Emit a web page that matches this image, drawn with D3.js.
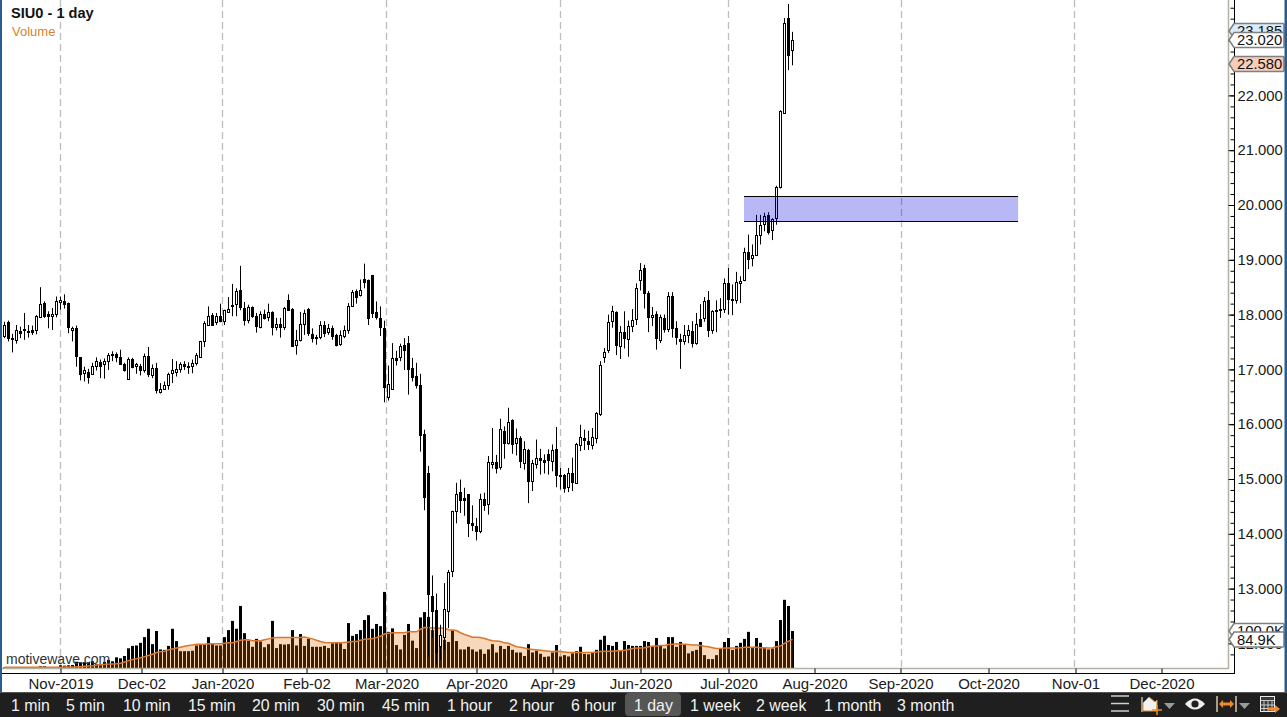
<!DOCTYPE html>
<html><head><meta charset="utf-8">
<script src="https://cdn.jsdelivr.net/npm/d3@7/dist/d3.min.js"></script>
<style>html,body{margin:0;padding:0;background:#fff;overflow:hidden}svg{display:block}text{font-family:"Liberation Sans",Arial,sans-serif}</style>
</head><body><svg id="c" width="1287" height="717"></svg>
<script>
const opens=[17.61,17.87,17.58,17.54,17.70,17.74,17.70,17.72,17.71,17.95,18.21,18.02,17.97,18.01,18.23,18.25,18.21,17.72,17.76,17.22,16.93,16.95,16.91,17.07,17.13,17.09,17.15,17.29,17.28,17.22,17.10,16.82,17.19,17.06,17.07,16.99,17.24,16.90,17.03,16.59,16.65,16.71,16.93,16.96,17.01,17.10,17.07,17.06,17.12,17.22,17.51,17.81,17.99,17.86,17.98,17.89,18.05,18.15,18.19,18.45,18.12,17.91,18.14,17.98,17.78,18.02,17.95,18.05,17.78,17.83,17.78,18.26,18.11,17.44,17.53,17.83,18.11,17.64,17.60,17.60,17.81,17.69,17.75,17.63,17.46,17.61,17.71,18.15,18.43,18.35,18.65,18.64,18.72,18.05,17.94,17.75,16.49,16.65,17.21,17.22,17.45,17.48,17.02,16.88,16.72,15.82,15.11,12.87,12.61,11.96,12.12,12.60,13.32,14.41,14.76,14.66,14.72,14.20,14.15,14.05,14.64,14.55,15.28,15.31,15.21,15.88,15.65,16.07,15.65,15.75,15.29,15.53,14.96,15.28,15.39,15.34,15.45,15.33,15.54,15.08,15.08,14.86,15.11,14.93,15.62,15.75,15.70,15.62,15.75,16.18,17.23,17.36,17.88,18.05,17.42,17.68,17.56,17.79,17.92,18.63,18.85,18.40,17.96,18.01,17.53,17.94,17.74,18.34,17.75,17.56,17.52,17.63,17.70,17.48,17.92,17.93,18.27,17.72,18.09,18.10,18.10,18.58,18.29,18.27,18.58,18.63,19.14,19.03,19.08,19.45,19.65,19.82,19.55,19.76,20.33,21.67,23.41,22.82];
const highs=[17.87,17.89,17.65,17.81,17.78,18.03,17.81,17.80,17.99,18.50,18.24,18.06,18.12,18.33,18.33,18.37,18.22,17.78,17.80,17.22,17.05,17.01,17.12,17.22,17.18,17.20,17.30,17.33,17.31,17.36,17.12,17.22,17.21,17.12,17.10,17.29,17.41,17.09,17.12,16.75,16.78,16.94,17.19,17.15,17.13,17.15,17.13,17.18,17.30,17.52,17.88,18.15,18.03,18.03,18.20,18.09,18.32,18.56,18.48,18.89,18.23,18.18,18.15,18.03,18.06,18.09,18.20,18.06,17.94,17.94,18.14,18.37,18.12,17.72,18.05,18.09,18.12,17.75,17.63,17.88,17.88,17.83,17.80,17.65,17.71,17.80,18.21,18.45,18.46,18.64,18.93,18.64,18.72,18.24,18.15,17.89,17.07,17.48,17.34,17.47,17.57,17.61,17.21,17.12,16.92,15.90,15.24,13.24,12.91,12.34,13.10,13.34,14.42,14.93,14.99,14.84,14.72,14.52,14.29,14.73,14.75,15.42,15.93,15.44,16.10,15.96,16.30,16.09,15.92,15.78,15.69,15.55,15.35,15.72,15.55,15.45,15.54,15.63,15.95,15.20,15.09,15.20,15.39,15.66,15.99,15.90,15.88,15.93,16.22,17.15,17.39,18.00,18.16,18.06,17.79,18.06,17.89,18.10,18.57,18.94,18.91,18.43,18.14,18.06,18.00,18.00,18.41,18.41,17.88,17.65,17.81,17.81,17.88,18.03,18.19,18.32,18.43,18.08,18.26,18.30,18.66,18.85,18.55,18.78,18.70,19.22,19.46,19.28,19.82,19.82,19.86,19.87,19.76,20.35,21.73,23.41,23.67,23.16];
const lows=[17.57,17.51,17.31,17.47,17.57,17.54,17.58,17.63,17.64,17.95,17.94,17.75,17.72,17.95,18.09,18.11,17.66,17.51,17.05,16.80,16.78,16.74,16.90,16.98,16.84,16.83,16.99,17.15,17.13,17.08,16.96,16.82,17.02,16.92,16.89,16.94,16.86,16.84,16.56,16.56,16.63,16.63,16.75,16.87,16.94,16.99,16.92,16.93,17.07,17.21,17.41,17.80,17.80,17.81,17.86,17.81,18.04,17.97,17.97,18.08,17.80,17.84,17.94,17.67,17.75,17.91,17.88,17.62,17.71,17.58,17.72,18.09,17.42,17.27,17.51,17.63,17.61,17.49,17.45,17.55,17.59,17.63,17.54,17.42,17.43,17.57,17.65,18.14,18.20,18.33,18.48,17.81,17.94,17.91,17.61,16.40,16.43,16.65,17.07,17.15,16.99,16.54,16.78,16.65,15.50,14.43,11.76,12.10,11.62,11.70,11.88,12.28,13.21,14.19,14.38,14.33,13.94,14.05,13.88,14.01,14.42,14.35,15.19,15.10,15.17,15.37,15.63,15.46,15.43,15.20,15.17,14.56,14.78,15.19,15.08,15.10,15.08,15.14,14.85,14.81,14.75,14.76,14.78,14.92,15.51,15.53,15.53,15.54,15.65,16.15,17.12,17.30,17.76,17.26,17.19,17.38,17.23,17.68,17.81,18.44,18.11,17.68,17.79,17.36,17.48,17.67,17.68,17.58,17.45,17.01,17.45,17.48,17.40,17.45,17.79,17.87,17.59,17.65,17.68,17.94,18.03,18.00,17.99,18.20,18.21,18.61,18.83,18.88,19.08,19.28,19.52,19.46,19.36,19.64,20.30,21.67,22.46,22.55];
const closes=[17.81,17.57,17.55,17.71,17.67,17.71,17.68,17.69,17.98,18.19,17.98,17.97,18.01,18.25,18.27,18.20,17.77,17.75,17.24,16.91,16.99,16.87,17.07,17.15,17.06,17.15,17.26,17.26,17.22,17.10,16.98,17.19,17.05,17.10,16.99,17.25,16.91,17.03,16.62,16.65,16.71,16.91,16.99,17.01,17.10,17.06,17.04,17.12,17.26,17.52,17.85,17.98,17.81,17.98,17.89,18.09,18.10,18.17,18.43,18.14,17.91,18.14,17.97,17.80,18.02,17.93,18.05,17.77,17.83,17.78,18.12,18.09,17.43,17.53,17.83,18.03,17.66,17.57,17.57,17.81,17.67,17.75,17.61,17.45,17.62,17.72,18.15,18.41,18.33,18.45,18.59,17.94,18.03,17.95,17.78,16.67,16.73,17.21,17.18,17.43,17.35,17.01,16.87,16.72,15.81,14.68,12.91,12.60,11.85,12.15,12.62,13.30,14.41,14.73,14.61,14.61,14.19,14.16,14.05,14.64,14.52,15.31,15.31,15.20,15.91,15.65,16.04,15.63,15.75,15.33,15.55,14.96,15.29,15.39,15.34,15.31,15.34,15.53,15.07,15.05,14.83,15.11,14.95,15.64,15.77,15.71,15.63,15.77,16.21,17.08,17.31,17.87,18.06,17.44,17.68,17.57,17.79,17.90,18.49,18.82,18.39,17.96,17.99,17.57,17.96,17.73,18.34,17.75,17.59,17.52,17.63,17.72,17.48,17.83,17.79,18.25,17.72,18.06,18.06,18.09,18.58,18.28,18.27,18.60,18.61,19.14,19.02,19.08,19.45,19.64,19.80,19.51,19.74,20.32,21.72,23.33,22.74,23.02];
const volumes=[2,2,2,2,3,2,2,2,2,4.6,4.6,3,2.3,2.3,6.8,6,6.8,7.6,15,13.7,13.7,13.7,16,10,8.3,14.4,19,16,25,22.8,28,45.5,51,52,58,71,90,55,85,43,42,51,90,62,39,39,39,40,52,53,54,71,55,52,52,71,87,108,90,142,80,63,49,67,61,48,55,108,46,55,54,55,87,52,78,51,67,49,49,49,51,46,57,60,57,44,103,74,78,87,110,121,90,101,96,174,83,91,53,43,76,101,63,46,116,128,117,87,76,53,65,60,86,62,43,43,49,43,38,43,33,43,55,36,51,44,51,42,36,36,28,55,36,40,33,26,27,36,53,27,30,27,34,39,49,33,32,36,42,65,74,53,51,60,40,62,53,51,51,51,62,60,51,69,53,45,71,71,49,60,53,34,39,42,60,30,21,21,30,46,60,69,42,51,58,67,83,46,69,58,46,43,45,62,110,156,142,84.9];
const volumeAvg=[2.3,2.3,2.3,2.3,2.3,2.3,2.3,2.3,2.3,2.3,2.3,2.3,2.3,2.3,2.3,3,3,3,3.8,3.8,4.5,5.3,6,7.6,8.3,9,10,10,10.6,11.4,14.4,17.5,20,22,24,26.6,29,32,36,38,39,42,44,46,48,50,52,53,55,55,55,56,56,56,56,57,58,58,61,64,65,65,63,63,63,65,67,69,70,70,70,70,70,70,70,71,69,67,64,61,59,58,58,58,58,59,60,61,61,64,66,67,68,70,73,78,80,81,81,81,81,83,83,83,89,93,93,92,91,91,92,88,87,86,81,77,74,71,71,70,68,65,63,62,61,58,57,53,49,48,46,44,43,42,41,40,39,38,39,38,37,36,36,36,36,36,36,36,37,38,39,39,39,40,40,41,43,45,46,46,47,49,50,51,52,52,54,55,56,55,55,54,53,53,52,50,49,47,45,45,46,46,46,46,47,48,48,48,48,47,47,46,47,49,51,57,62,66,68];
const priceTicks=[12,13,14,15,16,17,18,19,20,21,22,23];
const timeTicks=[14,34.25,54.5,75.5,95.5,118,137,159,181,202.5,224,246,267.75,289.25];
const timeLabels=["Nov-2019","Dec-02","Jan-2020","Feb-02","Mar-2020","Apr-2020","Apr-29","Jun-2020","Jul-2020","Aug-2020","Sep-2020","Oct-2020","Nov-01","Dec-2020"];
const gridTicks=[14,54.5,95.5,139,181,224.25,267.5];
const zoneBar=[185,253.4];
const zonePrice=[19.7,20.16];
const buttons=["1 min","5 min","10 min","15 min","20 min","30 min","45 min","1 hour","2 hour","6 hour","1 day","1 week","2 week","1 month","3 month"];
const buttonX=[11,66,123,188,252,317,382,447,509,571,634,690,756,824,897];
const priceTags=[["23.185",31,"#d8ecfb"],["23.020",40,"#ffffff"],["22.580",64,"#f6cdb8"]];
const volTags=[["100.0K",631,"#ffffff"],["84.9K",639.5,"#ffffff"]];

const svg=d3.select("#c");
const x=d3.scaleLinear().domain([0,197]).range([4.5,792.5]);
const y=d3.scaleLinear().domain([20,12]).range([205,643.4]);
const v=d3.scaleLinear().domain([0,100]).range([668.3,624.4]);
const idx=d3.range(opens.length);
const font='"Liberation Sans",Arial,sans-serif';

// gridlines
svg.append("g").selectAll("line").data(gridTicks).join("line")
 .attr("x1",d=>Math.floor(x(d))+.5).attr("x2",d=>Math.floor(x(d))+.5).attr("y1",0).attr("y2",668)
 .attr("stroke","#bdbdbd").attr("stroke-width",1.3).attr("stroke-dasharray","7 4");

// volume
svg.append("g").selectAll("rect").data(idx).join("rect")
 .attr("x",i=>x(i)-1.5).attr("width",3).attr("y",i=>v(volumes[i])).attr("height",i=>v(0)-v(volumes[i])).attr("fill","#000");
const area=d3.area().x(i=>x(i)).y0(v(0)).y1(i=>v(volumeAvg[i])).curve(d3.curveLinear);
svg.append("path").datum(idx).attr("d",area).attr("fill","rgb(228,112,0)").attr("fill-opacity",.27);
svg.append("path").datum(idx).attr("d",d3.line().x(i=>x(i)).y(i=>v(volumeAvg[i]))).attr("fill","none").attr("stroke","#d9772a").attr("stroke-width",1.5);

// candles
const c=svg.append("g").selectAll("g").data(idx).join("g");
c.append("line").attr("x1",i=>x(i)).attr("x2",i=>x(i)).attr("y1",i=>y(highs[i])).attr("y2",i=>y(lows[i])).attr("stroke","#000");
c.append("rect").attr("x",i=>x(i)-1).attr("width",2)
 .attr("y",i=>Math.round(y(Math.max(opens[i],closes[i])))+.5)
 .attr("height",i=>Math.max(1,Math.round(y(Math.min(opens[i],closes[i])))-Math.round(y(Math.max(opens[i],closes[i])))))
 .attr("fill",i=>closes[i]>=opens[i]?"#fff":"#000").attr("stroke","#000");

// zone
const zx0=x(zoneBar[0])-.5,zx1=x(zoneBar[1]);
svg.append("rect").attr("x",zx0).attr("width",zx1-zx0).attr("y",y(zonePrice[1])).attr("height",y(zonePrice[0])-y(zonePrice[1])).attr("fill","#0000e0").attr("fill-opacity",.28);
zonePrice.forEach(p=>svg.append("line").attr("x1",zx0).attr("x2",zx1).attr("y1",Math.round(y(p))+.5).attr("y2",Math.round(y(p))+.5).attr("stroke","#000"));

// frame lines
svg.append("line").attr("x1",0).attr("x2",1229).attr("y1",668.5).attr("y2",668.5).attr("stroke","#b5b3a0").attr("stroke-width",1.5);
svg.append("line").attr("x1",1228.5).attr("x2",1228.5).attr("y1",0).attr("y2",669).attr("stroke","#b5b3a0").attr("stroke-width",1.5);
svg.append("line").attr("x1",2).attr("x2",1235).attr("y1",673.5).attr("y2",673.5).attr("stroke","#000");
svg.append("line").attr("x1",1234.5).attr("x2",1234.5).attr("y1",0).attr("y2",674).attr("stroke","#000");

// bottom axis
const ax=d3.axisBottom(x).tickValues(timeTicks).tickFormat((d,i)=>timeLabels[i]).tickSize(5).tickPadding(4.5);
const gx=svg.append("g").attr("transform","translate(0,668.5)").call(ax);
gx.select(".domain").remove();
gx.selectAll("line").attr("stroke","#000");
gx.selectAll("text").attr("font-family",font).attr("font-size",15).attr("fill","#1a1a1a");

// right axis
const ay=d3.axisRight(y).tickValues(priceTicks).tickFormat(d3.format(".3f")).tickSize(6).tickPadding(3);
const gy=svg.append("g").attr("transform","translate(1228.5,0)").call(ay);
gy.select(".domain").remove();
gy.selectAll("line").attr("stroke","#000");
gy.selectAll("text").attr("font-family",font).attr("font-size",14.8).attr("fill","#1a1a1a").attr("text-anchor","start");
const minorTicks=d3.range(11.8,23.8,0.2);
const am=d3.axisLeft(y).tickValues(minorTicks).tickFormat("").tickSize(4);
const gm=svg.append("g").attr("transform","translate(1234.5,0)").call(am);
gm.select(".domain").remove();
gm.selectAll("line").attr("stroke","#000");

// tags
function tag(t,yc,fill){
  const g=svg.append("g");
  const top=yc-7.5,bot=yc+7.5,l=1234,r=1284,tip=1229;
  g.append("path").attr("d",`M${tip},${yc}L${l},${top}H${r-1}Q${r},${top} ${r},${top+1}V${bot-1}Q${r},${bot} ${r-1},${bot}H${l}Z`)
   .attr("fill",fill).attr("stroke","#808080").attr("stroke-width",1.6);
  g.append("text").attr("x",1237).attr("y",yc+5).attr("font-size",14.8).attr("font-family",font).attr("fill","#111").text(t);
}
volTags.forEach(d=>tag(d[0],d[1],d[2]));
priceTags.forEach(d=>tag(d[0],d[1],d[2]));

// titles
svg.append("text").attr("x",11).attr("y",18).attr("font-size",14.6).attr("font-weight","bold").attr("font-family",font).attr("fill","#111").text("SIU0 - 1 day");
svg.append("text").attr("x",12).attr("y",36).attr("font-size",13).attr("font-family",font).attr("fill","#d9822b").text("Volume");
svg.append("text").attr("x",6).attr("y",664).attr("font-size",14).attr("font-family",font).attr("fill","#333").text("motivewave.com");

// window edges
svg.append("rect").attr("x",0).attr("y",0).attr("width",2).attr("height",692).attr("fill","#2a5c8f");
svg.append("rect").attr("x",1284.5).attr("y",0).attr("width",2.5).attr("height",692).attr("fill","#2a5c8f");

// toolbar
svg.append("rect").attr("x",0).attr("y",692).attr("width",1287).attr("height",25).attr("fill","#1f1f1f");
svg.append("line").attr("x1",0).attr("x2",1287).attr("y1",692.5).attr("y2",692.5).attr("stroke","#555");
svg.append("rect").attr("x",625).attr("y",693).attr("width",56).attr("height",23).attr("rx",4).attr("fill","#565656");
svg.append("g").selectAll("text").data(buttons).join("text").attr("x",(d,i)=>buttonX[i]).attr("y",711)
 .attr("font-size",15.9).attr("font-family",font).attr("fill","#f2f2f2").text(d=>d);

// toolbar icons
const ic=svg.append("g");
[696,703.5,711].forEach(yy=>ic.append("line").attr("x1",1111).attr("x2",1129).attr("y1",yy).attr("y2",yy).attr("stroke","#cfcfcf").attr("stroke-width",1.5));
ic.append("path").attr("d","M1142,712V697").attr("stroke","#cdbb9a").attr("stroke-width",1.5).attr("fill","none");
ic.append("path").attr("d","M1143,711V703L1149,697L1155,702L1157,700V711Z").attr("fill","#f1f1f1").attr("stroke","#e08a3c");
ic.append("path").attr("d","M1157,705V715M1152,710H1162").attr("stroke","#f08a2c").attr("stroke-width",1.5);
ic.append("path").attr("d","M1164,703H1175L1169.5,709Z").attr("fill","#9a9a9a");
ic.append("path").attr("d","M1185,704Q1195,693 1205,704Q1195,715 1185,704Z").attr("fill","#efefef");
ic.append("circle").attr("cx",1195).attr("cy",704).attr("r",3.6).attr("fill","#1f1f1f");
ic.append("path").attr("d","M1217,696V712M1236,696V712").attr("stroke","#d8c8a8").attr("stroke-width",1.5);
ic.append("path").attr("d","M1219,704L1223,700V702.5H1230V700L1234,704L1230,708V705.5H1223V708Z").attr("fill","#f08a2c");
ic.append("path").attr("d","M1239,703H1250L1244.5,709Z").attr("fill","#9a9a9a");
ic.append("rect").attr("x",1260.5).attr("y",696.5).attr("width",14).attr("height",15).attr("fill","#3a3a3a").attr("stroke","#e8e8e8");
ic.append("path").attr("d","M1260,700.5H1275M1264,701V712M1268,701V712M1272,701V712M1260,705H1275M1260,708.5H1275").attr("stroke","#e8e8e8").attr("stroke-width",.8);
ic.append("path").attr("d","M1268,707.5H1275V705L1280,709L1275,713V710.5H1268Z").attr("fill","#f08a2c");
</script></body></html>
